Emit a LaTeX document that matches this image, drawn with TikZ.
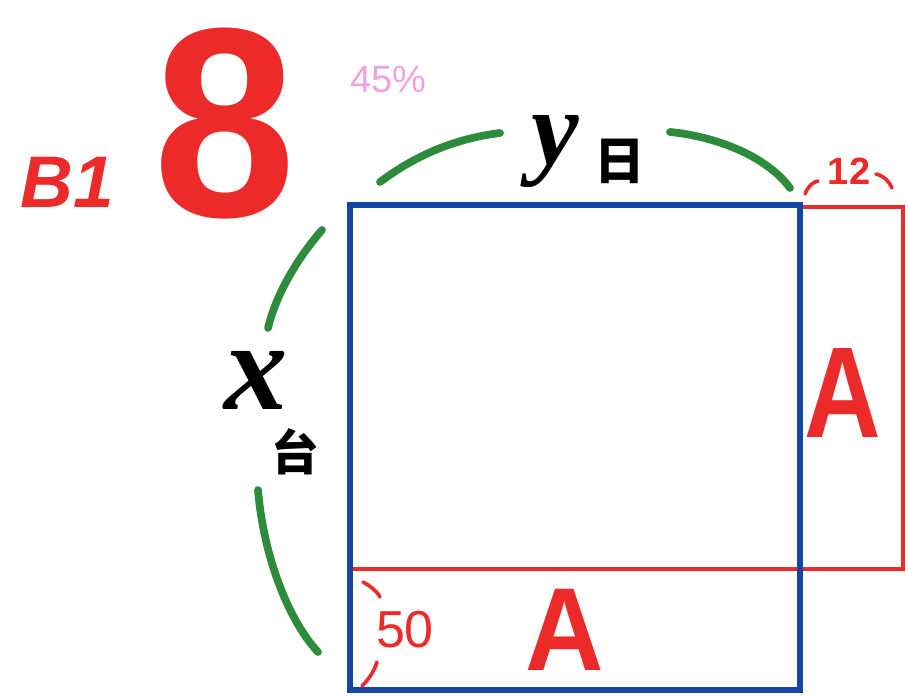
\documentclass[tikz,border=0pt]{standalone}
\usepackage{fontspec}
\setmainfont{Liberation Sans}
\newfontfamily\cjk{Noto Sans CJK SC}
\newfontfamily\hand{Liberation Serif}
\usetikzlibrary{positioning}
\definecolor{SKred}{HTML}{EC2A2A}
\definecolor{SKblue}{HTML}{1446A6}
\definecolor{SKgreen}{HTML}{2E8B3C}
\definecolor{SKpink}{HTML}{EEA2DE}

\begin{document}
\begin{tikzpicture}[
    x=0.025cm,y=-0.025cm,
    blueline/.style={draw=SKblue,line width=3.6pt,line cap=round},
    redline/.style={draw=SKred,line width=3.4pt,line cap=round},
    arcline/.style={draw=SKgreen,line width=5.5pt,line cap=round},
    tick/.style={draw=SKred,line width=2.6pt,line cap=round},
    redtext/.style={text=SKred,inner sep=0pt,font=\bfseries},
    blacktext/.style={text=black,inner sep=0pt}
  ]
    \useasboundingbox (0,0) rectangle (908,696);

    % RED PARTS
    \draw[redline] (350,569) -- (903,569) -- (903,207) -- (800,207);

    % SQUARE
    \draw[blueline] (350,205) rectangle (800,690);

    % ARCS
    \draw[arcline] (380,182) .. controls (420,152) and (460,138) .. (500,133);
    \draw[arcline] (670,132) .. controls (720,137) and (768,158) .. (790,188);
    \draw[arcline] (322,230) .. controls (296,260) and (276,295) .. (268,328);
    \draw[arcline] (258,490) .. controls (264,560) and (290,622) .. (318,652);

    % Labels
    \node[redtext,font=\bfseries\fontsize{192}{192}\selectfont] (eight) at (225,124) {\scalebox{0.95}[1]{8}};
    \node[redtext,font=\bfseries\itshape\fontsize{52}{52}\selectfont] (bone) at (67,182) {B1};
    \node[text=SKpink,inner sep=0pt,font=\fontsize{27}{27}\selectfont] (pct) at (388,80) {45\%};

    \node[blacktext,font=\hand\bfseries\itshape\fontsize{76}{76}\selectfont] (yvar) at (555,152) {y};
    \node[blacktext,font=\cjk\bfseries\fontsize{36}{36}\selectfont] (yunit) at (620,161) {日};
    \node[blacktext,font=\hand\bfseries\itshape\fontsize{90}{90}\selectfont] (xvar) at (256,380) {x};
    \node[blacktext,font=\cjk\bfseries\fontsize{34}{34}\selectfont] (xunit) at (295,452) {台};

    \node[redtext,font=\bfseries\fontsize{27}{27}\selectfont] (twelve) at (849,171) {12};
    \draw[tick] (805,194) .. controls (808,186) and (813,182) .. (818,181);
    \draw[tick] (876,174) .. controls (884,176) and (889,181) .. (892,188);

    \node[redtext,font=\bfseries\fontsize{92}{92}\selectfont] (rightA) at (843,393) {\scalebox{0.82}[1]{A}};
    \node[redtext,font=\bfseries\fontsize{84}{84}\selectfont] (bottomA) at (565,630) {\scalebox{0.92}[1]{A}};

    \node[redtext,font=\fontsize{37}{37}\selectfont] (fifty) at (405,630) {50};
    \draw[tick] (363,582) .. controls (370,586) and (376,590) .. (380,597);
    \draw[tick] (377,662) .. controls (374,672) and (368,680) .. (362,686);
  \end{tikzpicture}
\end{document}
